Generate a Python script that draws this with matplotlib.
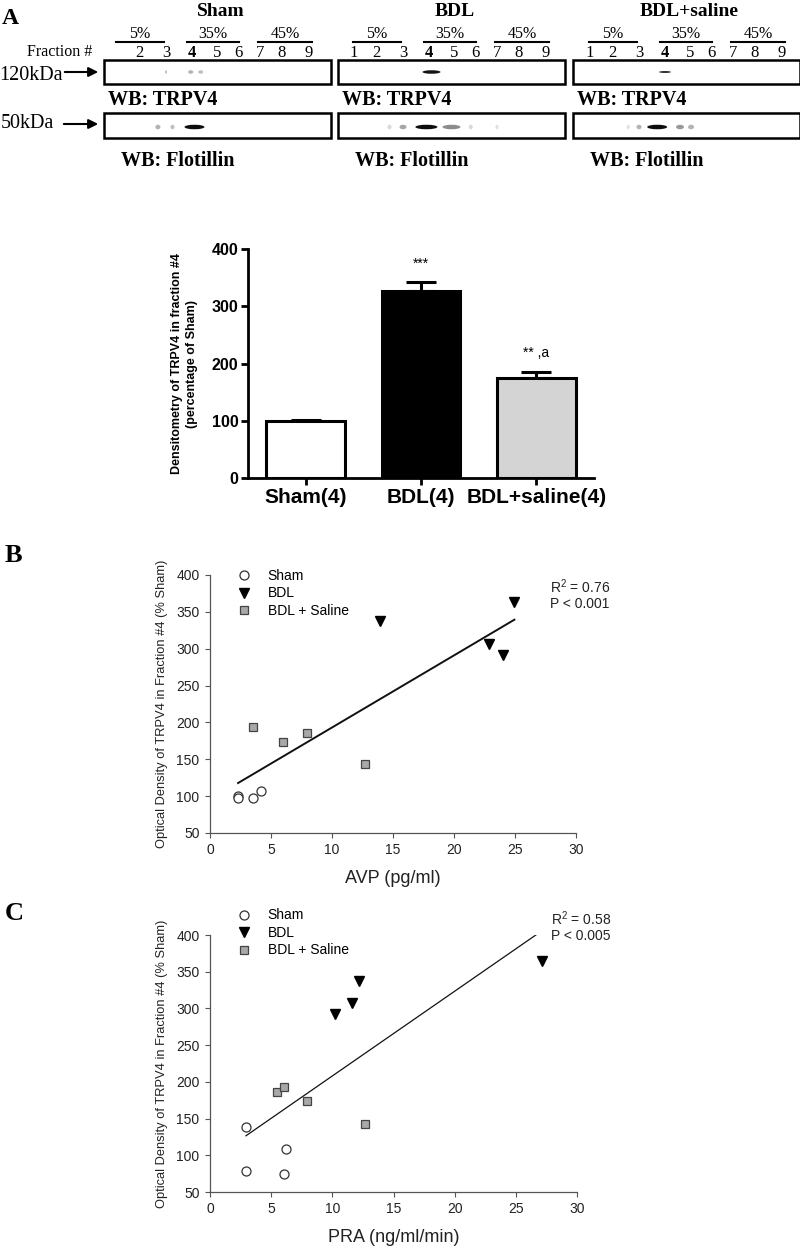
import numpy as np
import matplotlib
matplotlib.use('Agg')
import matplotlib.pyplot as plt
from matplotlib.patches import Ellipse, Rectangle

# ---- panel A: blots ----
blot_titles = ['Sham', 'BDL', 'BDL+saline']
blot_lanes = [[2, 3, 4, 5, 6, 7, 8, 9],
              [1, 2, 3, 4, 5, 6, 7, 8, 9],
              [1, 2, 3, 4, 5, 6, 7, 8, 9]]
gradient_labels = ['5%', '35%', '45%']
# (lane, intensity, width px)
trpv4_bands = [[(3.0, 0.25, 2), (3.95, 0.3, 5), (4.35, 0.25, 5)],
               [(4.1, 0.92, 18)],
               [(4.0, 0.9, 12)]]
flotillin_bands = [[(2.7, 0.3, 5), (3.25, 0.25, 4), (4.1, 0.95, 20)],
                   [(2.5, 0.15, 4), (3.0, 0.35, 7), (3.9, 0.95, 22), (4.9, 0.45, 18), (5.8, 0.15, 4), (7.0, 0.12, 3)],
                   [(2.6, 0.12, 3), (3.0, 0.3, 5), (3.7, 0.95, 20), (4.6, 0.4, 8), (5.05, 0.3, 6)]]

# ---- panel A: densitometry ----
bar_labels = ['Sham(4)', 'BDL(4)', 'BDL+saline(4)']
bar_means = [100, 327, 175]
bar_sem = [2, 15, 10]
bar_marks = ['', '***', '** ,a']
bar_colors = ['white', 'black', '#d4d4d4']

# ---- panel B: AVP ----
avp_sham = [2.3, 2.3, 3.5, 4.15]
od_sham_b = [100, 98, 97, 107]
avp_bdl = [13.9, 24.95, 22.9, 24.0]
od_bdl_b = [337, 363, 307, 291]
avp_sal = [3.55, 5.96, 7.93, 12.7]
od_sal_b = [194, 174, 186, 143]

# ---- panel C: PRA ----
pra_sham = [2.94, 2.94, 6.05, 6.2]
od_sham_c = [139, 79, 74, 109]
pra_bdl = [10.2, 11.6, 12.2, 27.1]
od_bdl_c = [292, 307, 337, 365]
pra_sal = [5.5, 6.05, 7.95, 12.65]
od_sal_c = [186, 193, 174, 142]

W, H = 800, 1252
serif = 'Liberation Serif'
sans = 'Liberation Sans'

fig = plt.figure(figsize=(W / 100, H / 100), dpi=100)


def px_axes(x0, y0, x1, y1):
    return fig.add_axes([x0 / W, 1 - y1 / H, (x1 - x0) / W, (y1 - y0) / H])


# overlay in pixel coordinates for the blot drawing
ax0 = fig.add_axes([0, 0, 1, 1])
ax0.set_xlim(0, W)
ax0.set_ylim(H, 0)
ax0.axis('off')

box_left = [104, 338, 573]
box_shift = [-3, 0, 1]
box_w = 227
lane_off = [16, 38, 65, 91, 116, 137, 159, 181, 208]
grad_off = [(15, 63), (86, 138), (157, 211)]

ax0.text(2, 18, 'A', family=serif, fontweight='bold', fontsize=17, va='center')
ax0.text(27, 52, 'Fraction #', family=serif, fontsize=11.5, va='center')
ax0.text(-1, 75, '120kDa', family=serif, fontsize=14.5, va='center')
ax0.text(1, 124, '50kDa', family=serif, fontsize=14.5, va='center')
ax0.annotate('', xy=(101, 72), xytext=(62, 72),
             arrowprops=dict(arrowstyle='-|>', color='black', lw=1.5, mutation_scale=14))
ax0.annotate('', xy=(101, 124), xytext=(61, 124),
             arrowprops=dict(arrowstyle='-|>', color='black', lw=1.5, mutation_scale=14))

for i, title in enumerate(blot_titles):
    bl = box_left[i]
    sh = box_shift[i]
    ax0.text(bl + box_w / 2 + 3, 12, title, family=serif, fontweight='bold',
             fontsize=14, ha='center', va='center')
    for j, g in enumerate(gradient_labels):
        a, b = grad_off[j]
        ax0.plot([bl + a + sh, bl + b + sh], [42, 42], color='black', lw=1.5)
        ax0.text(bl + (a + b) / 2 + sh, 34, g, family=serif, fontsize=11.5,
                 ha='center', va='center')
    for lane in blot_lanes[i]:
        ax0.text(bl + lane_off[lane - 1] + sh, 53, str(lane), family=serif,
                 fontsize=12, ha='center', va='center',
                 fontweight='bold' if lane == 4 else 'normal')
    ax0.add_patch(Rectangle((bl, 60), box_w, 24, fill=False, lw=1.8, ec='black'))
    ax0.add_patch(Rectangle((bl, 113), box_w, 25, fill=False, lw=1.8, ec='black'))
    for lane, inten, bw in trpv4_bands[i]:
        cx = bl + np.interp(lane, range(1, 10), lane_off) + sh
        hh = 1.8 if i == 2 else 3.5
        ax0.add_patch(Ellipse((cx, 72), bw, hh, color=str(1 - inten), lw=0))
    for lane, inten, bw in flotillin_bands[i]:
        cx = bl + np.interp(lane, range(1, 10), lane_off) + sh
        ax0.add_patch(Ellipse((cx, 127), bw, 4.5, color=str(1 - inten), lw=0))
    ax0.text(bl + 4, 100, 'WB: TRPV4', family=serif, fontweight='bold',
             fontsize=14.5, va='center')
    ax0.text(bl + 17, 161, 'WB: Flotillin', family=serif, fontweight='bold',
             fontsize=14.5, va='center')

# ---- bar chart ----
ax1 = px_axes(248, 249, 594, 478)
xpos = np.arange(len(bar_labels))
ax1.bar(xpos, bar_means, width=0.68, color=bar_colors, edgecolor='black',
        linewidth=2.2, zorder=3)
ax1.errorbar(xpos, bar_means, yerr=[np.zeros(3), bar_sem], fmt='none',
             ecolor='black', elinewidth=2.2, capsize=11, capthick=2.2, zorder=2)
for x, m, s, t in zip(xpos, bar_means, bar_sem, bar_marks):
    ax1.text(x, m + s + 33, t, family=sans, fontsize=10, ha='center', va='center')
ax1.set_xlim(-0.5, 2.5)
ax1.set_ylim(0, 400)
ax1.set_yticks([0, 100, 200, 300, 400])
ax1.set_xticks(xpos)
ax1.set_xticklabels(bar_labels)
for sp in ['top', 'right']:
    ax1.spines[sp].set_visible(False)
for sp in ['left', 'bottom']:
    ax1.spines[sp].set_linewidth(2)
ax1.tick_params(axis='both', width=2, length=5, pad=2)
for lab in ax1.get_yticklabels():
    lab.set_fontfamily(sans)
    lab.set_fontweight('bold')
    lab.set_fontsize(11.5)
for lab in ax1.get_xticklabels():
    lab.set_fontfamily(sans)
    lab.set_fontweight('bold')
    lab.set_fontsize(15)
ax1.set_ylabel('Densitometry of TRPV4 in fraction #4\n(percentage of Sham)',
               family=sans, fontweight='bold', fontsize=9, labelpad=10,
               linespacing=1.3)


# ---- scatter panels ----
def scatter_panel(ax, xs, ys, xlabel, r2, pval, line_w, leg_y, txt_y):
    ax.plot(xs[0], ys[0], 'o', ms=6.5, mfc='white', mec='#333333', mew=0.9,
            ls='none', label='Sham')
    ax.plot(xs[1], ys[1], 'v', ms=7, color='black', ls='none', label='BDL')
    ax.plot(xs[2], ys[2], 's', ms=6, mfc='#a8a8a8', mec='#444444', mew=0.9,
            ls='none', label='BDL + Saline')
    allx = np.concatenate([np.asarray(v, float) for v in xs])
    ally = np.concatenate([np.asarray(v, float) for v in ys])
    k, b = np.polyfit(allx, ally, 1)
    lx = np.array([allx.min(), allx.max()])
    ax.plot(lx, k * lx + b, color='#111111', lw=line_w, zorder=1)
    ax.set_xlim(0, 30)
    ax.set_ylim(50, 400)
    ax.set_xticks(range(0, 31, 5))
    ax.set_yticks(range(50, 401, 50))
    for sp in ['top', 'right']:
        ax.spines[sp].set_visible(False)
    for sp in ['left', 'bottom']:
        ax.spines[sp].set_color('#555555')
        ax.spines[sp].set_linewidth(0.9)
    ax.tick_params(axis='both', length=3.5, width=0.8, color='#555555',
                   labelcolor='#222222', labelsize=10, pad=4)
    for lab in ax.get_xticklabels() + ax.get_yticklabels():
        lab.set_fontfamily(sans)
    ax.set_xlabel(xlabel, family=sans, fontsize=13, color='#222222', labelpad=9)
    ax.set_ylabel('Optical Density of TRPV4 in Fraction #4 (% Sham)',
                  family=sans, fontsize=9.3, color='#222222', labelpad=6)
    ax.legend(loc='upper left', bbox_to_anchor=(0.04, leg_y), frameon=False,
              prop={'family': sans, 'size': 10}, labelspacing=0.25,
              handletextpad=0.7, borderaxespad=0)
    ax.text(0.93, txt_y, '$\\mathregular{R^2}$ = ' + r2 + '\nP < ' + pval,
            transform=ax.transAxes, family=sans, fontsize=10, color='#222222',
            va='top', linespacing=1.1)


axB = px_axes(210, 575, 576, 833)
scatter_panel(axB, [avp_sham, avp_bdl, avp_sal], [od_sham_b, od_bdl_b, od_sal_b],
              'AVP (pg/ml)', '0.76', '0.001', 1.4, 1.045, 0.99)
axC = px_axes(210, 935, 577, 1192)
scatter_panel(axC, [pra_sham, pra_bdl, pra_sal], [od_sham_c, od_bdl_c, od_sal_c],
              'PRA (ng/ml/min)', '0.58', '0.005', 0.9, 1.125, 1.1)

ax0.text(5, 556, 'B', family=serif, fontweight='bold', fontsize=19, va='center')
ax0.text(5, 914, 'C', family=serif, fontweight='bold', fontsize=19, va='center')

fig.savefig('out.png', dpi=100)
